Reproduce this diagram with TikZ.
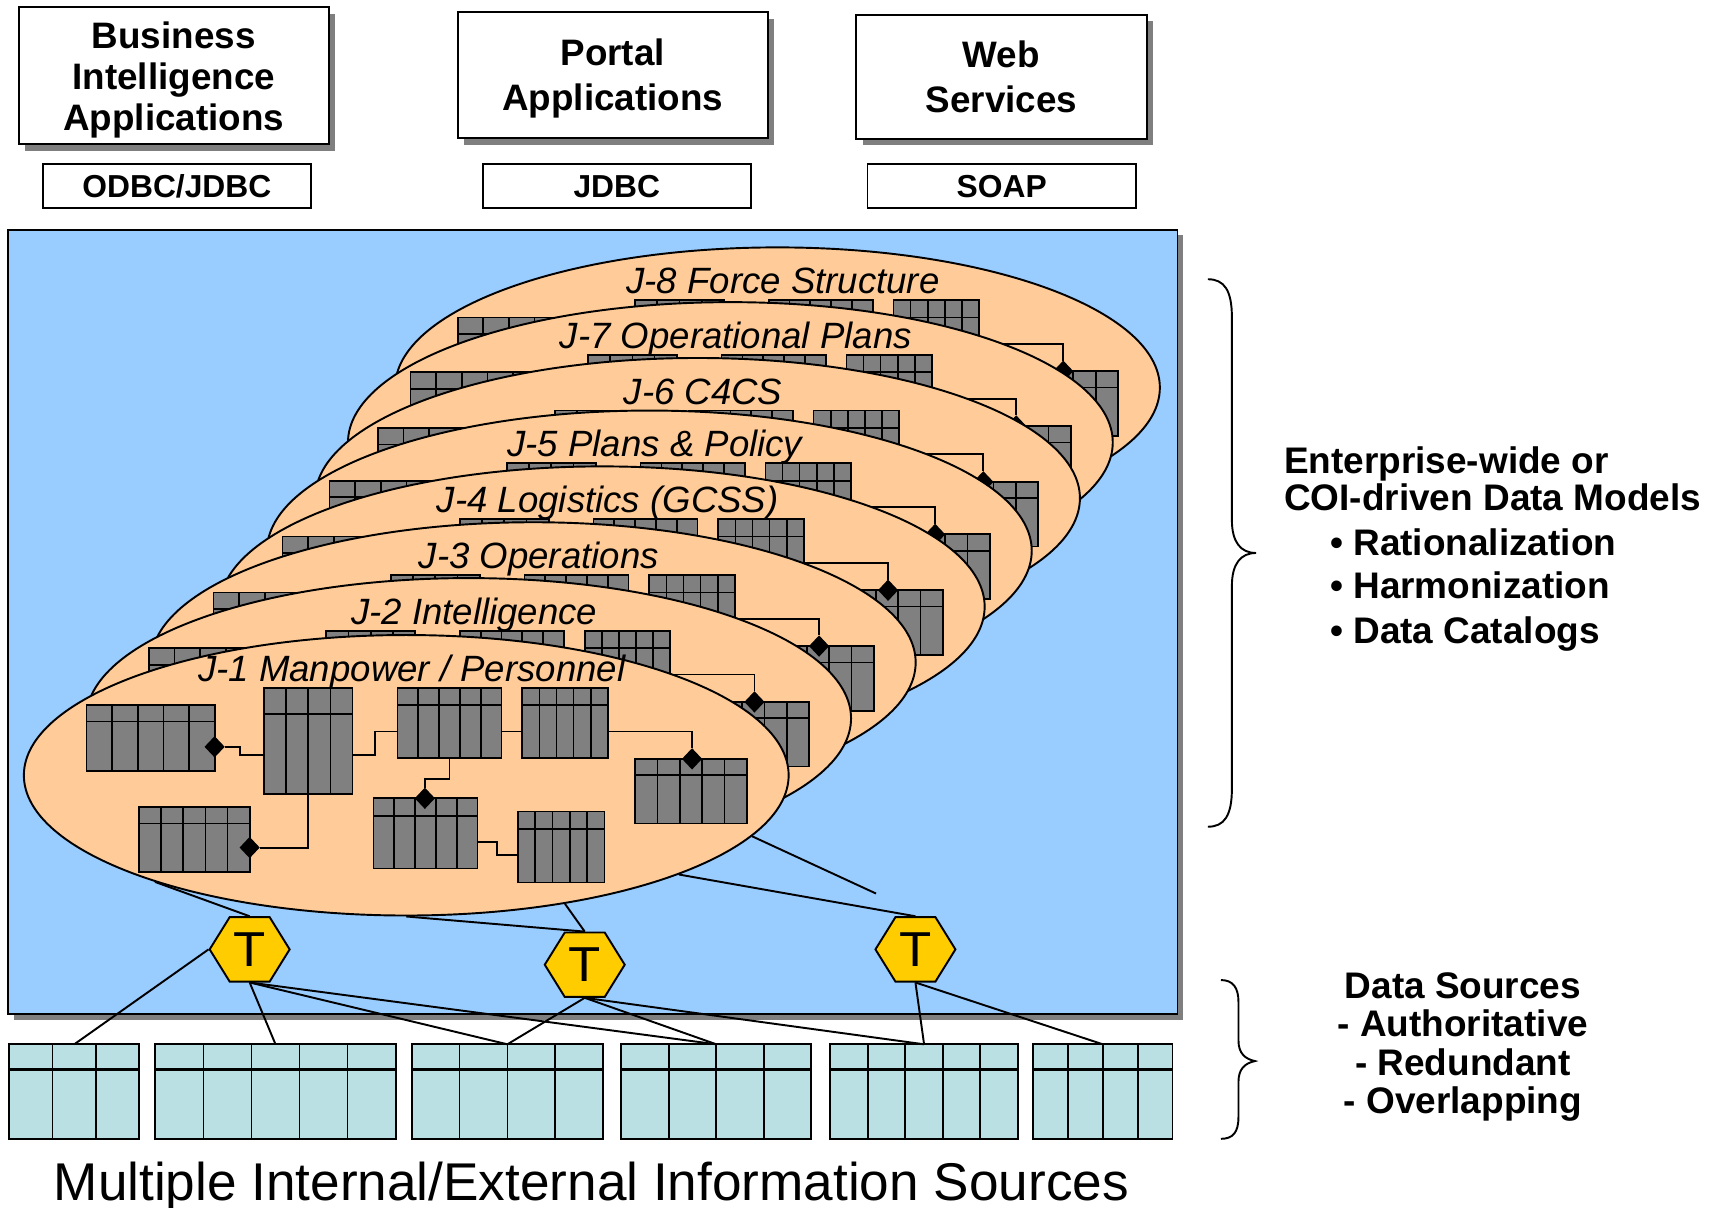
\documentclass[tikz,border=0pt]{standalone}
\usepackage{fontspec}
\setmainfont{Liberation Sans}
\usetikzlibrary{shapes.geometric,calc,shadows}

\definecolor{bluebg}{HTML}{99CCFF}
\definecolor{peach}{HTML}{FFCC99}
\definecolor{tablegray}{HTML}{808080}
\definecolor{hexgold}{HTML}{FFCC00}
\definecolor{srcfill}{HTML}{BBE0E3}
\definecolor{shadowgray}{HTML}{7F7F7F}

% A table drawn as a named node with column rules and a header rule.
% #1 style, #2 name, #3 centre, #4 width, #5 height, #6 columns,
% #7 header depth (px), #8 header rule width
\newcommand{\GridTable}[8]{%
  \node[#1, minimum width=#4, minimum height=#5] (#2) at (#3) {};
  \pgfmathtruncatemacro{\gtcm}{#6-1}%
  \foreach \k in {1,...,\gtcm}{%
    \draw[tabline] ($(#2.south west)!{\k/#6}!(#2.south east)$) -- ($(#2.north west)!{\k/#6}!(#2.north east)$);
  }%
  \draw[tabline, line width=#8] ($(#2.north west)+(0,#7)$) -- ($(#2.north east)+(0,#7)$);
}

% One directorate data model: ellipse, eight tables, keyed relations, title.
% #1 name prefix, #2 centre, #3 title
\newcommand{\DrawModel}[3]{%
  \begin{scope}[shift={(#2)}]
    \node[modelellipse] (#1ell) at (0,0) {};
    \GridTable{graytab}{#1ta}{-233.5,-34}{1.17cm}{0.60cm}{5}{15}{0.45pt}
    \GridTable{graytab}{#1tb}{-89.5,-31.5}{0.81cm}{0.97cm}{4}{24}{0.45pt}
    \GridTable{graytab}{#1tc}{39.5,-48}{0.95cm}{0.64cm}{5}{16}{0.45pt}
    \GridTable{graytab}{#1td}{145,-48}{0.78cm}{0.64cm}{5}{16}{0.45pt}
    \GridTable{graytab}{#1te}{260,14.5}{1.02cm}{0.59cm}{5}{15}{0.45pt}
    \GridTable{graytab}{#1tf}{-193.5,58.5}{1.01cm}{0.59cm}{5}{15}{0.45pt}
    \GridTable{graytab}{#1tg}{17.5,53}{0.95cm}{0.64cm}{5}{16}{0.45pt}
    \GridTable{graytab}{#1th}{141.5,65.5}{0.79cm}{0.65cm}{5}{16}{0.45pt}
    \node[keydiamond] (#1da) at (-175,-26) {};
    \node[keydiamond] (#1df) at (-143,66) {};
    \node[keydiamond] (#1de) at (261,-15) {};
    \node[keydiamond] (#1dg) at (17,21) {};
    \draw[link] (#1da.east) -- ++(14,0) |- ($(#1tb.west)+(0,13)$);
    \draw[link] (#1tb.south) |- (#1df.east);
    \draw[link] ($(#1tb.east)+(0,13)$) -- ++(20.5,0) |- ($(#1tc.west)+(0,8)$);
    \draw[link] ($(#1tc.east)+(0,8)$) -- ($(#1td.west)+(0,8)$);
    \draw[link] ($(#1td.east)+(0,8)$) -| (#1de.north);
    \draw[link] (#1tc.south) -- ++(0,19) -| (#1dg.north);
    \draw[link] ($(#1tg.east)+(0,8)$) -- ++(18,0) |- ($(#1th.west)+(0,7.5)$);
    \node[modeltitle] (#1ttl) at (5,-86) {#3};
  \end{scope}
}

\tikzset{
  link/.style={draw=black, line width=0.5pt},
  tabline/.style={draw=black, line width=0.45pt},
  graytab/.style={draw=black, fill=tablegray, inner sep=0, outer sep=0, line width=0.45pt},
  srctab/.style={draw=black, fill=srcfill, inner sep=0, outer sep=0, line width=0.5pt},
  keydiamond/.style={diamond, draw=black, fill=black, inner sep=0, minimum width=0.17cm, minimum height=0.18cm},
  modelellipse/.style={ellipse, draw=black, fill=peach, line width=0.5pt, inner sep=0, minimum width=6.98cm, minimum height=2.56cm},
  modeltitle/.style={anchor=base, inner sep=0, font=\fontsize{9.5}{11}\selectfont\itshape},
  appbox/.style={draw=black, fill=white, line width=0.5pt, align=center, inner sep=0,
    font=\fontsize{9.56}{11.7}\selectfont\bfseries,
    general shadow={fill=shadowgray, shadow xshift=0.06cm, shadow yshift=-0.06cm}},
  protobox/.style={draw=black, fill=white, line width=0.5pt, inner sep=0, minimum width=2.45cm, minimum height=0.405cm,
    font=\fontsize{8.25}{9}\selectfont\bfseries},
  bgpanel/.style={draw=black, fill=bluebg, line width=0.5pt, inner sep=0, minimum width=10.67cm, minimum height=7.16cm,
    general shadow={fill=shadowgray, shadow xshift=0.05cm, shadow yshift=-0.05cm}},
  tnode/.style={regular polygon, regular polygon sides=6, minimum size=0.73cm, inner sep=0, draw=black, fill=hexgold,
    line width=0.5pt, font=\fontsize{13.7}{14}\selectfont, transform shape, yscale=0.93},
  bracepath/.style={draw=black, line width=0.5pt},
  sidetext/.style={inner sep=0, font=\fontsize{9.6}{11}\selectfont\bfseries},
}

\begin{document}
\begin{tikzpicture}[x=0.01cm, y=-0.01cm]
\useasboundingbox (0,0) rectangle (1568,1103);

% consuming applications and their access protocols
\node[appbox, minimum width=2.83cm, minimum height=1.25cm, font=\fontsize{9.56}{10.6}\selectfont\bfseries] (bi) at (158.6,69) {\rule{0pt}{0.33cm}Business\\Intelligence\\Applications};
\node[appbox, minimum width=2.83cm, minimum height=1.15cm] (portal) at (559.5,68.8) {\rule{0pt}{0.30cm}Portal\\Applications};
\node[appbox, minimum width=2.65cm, minimum height=1.13cm] (web) at (914.5,70) {Web\\Services};
\node[protobox] (odbc) at (161.5,170) {ODBC/JDBC};
\node[protobox] (jdbc) at (563.3,170) {JDBC};
\node[protobox] (soap) at (914.8,170) {SOAP};

% integration layer
\node[bgpanel] (panel) at (541.5,568) {};

% stacked directorate models, back to front
\DrawModel{jh}{710,354}{J-8 Force Structure}
\DrawModel{jg}{667,404}{J-7 Operational Plans}
\DrawModel{jf}{637,455}{J-6 C4CS}
\DrawModel{je}{593,503}{J-5 Plans \& Policy}
\DrawModel{jd}{550,554}{J-4 Logistics (GCSS)}
\DrawModel{jc}{487,605}{J-3 Operations}
\DrawModel{jb}{428,656}{J-2 Intelligence}
\DrawModel{ja}{371,708}{J-1 Manpower / Personnel}

% transformation nodes
\node[tnode] (t1) at (228,867) {T};
\node[tnode] (t2) at (534,881) {T};
\node[tnode] (t3) at (836,867) {T};

\coordinate (loose) at (800,816);
\draw[link] (jaell.-157) -- (t1.north);
\draw[link] (jaell.south) -- (t2.north);
\draw[link] (jaell.-39) -- (t2.north);
\draw[link] (jaell.-20) -- (t3.north);
\draw[link] (jaell.-10) -- (loose);

% source databases
\GridTable{srctab}{s1}{67.8,997.1}{1.188cm}{0.868cm}{3}{22.6}{0.8pt}
\GridTable{srctab}{s2}{251.6,997.1}{2.194cm}{0.868cm}{5}{22.6}{0.8pt}
\GridTable{srctab}{s3}{463.35,997.1}{1.747cm}{0.868cm}{4}{22.6}{0.8pt}
\GridTable{srctab}{s4}{654.15,997.1}{1.733cm}{0.868cm}{4}{22.6}{0.8pt}
\GridTable{srctab}{s5}{843.9,997.1}{1.712cm}{0.868cm}{5}{22.6}{0.8pt}
\GridTable{srctab}{s6}{1007.1,997.1}{1.272cm}{0.868cm}{4}{22.6}{0.8pt}

\draw[link] (t1.west) -- (s1.north);
\foreach \s in {s2,s3,s4} \draw[link] (t1.south) -- (\s.north);
\foreach \s in {s3,s4,s5} \draw[link] (t2.south) -- (\s.north);
\foreach \s in {s5,s6} \draw[link] (t3.south) -- (\s.north);

% braces and annotations
\draw[bracepath] (1103,255) .. controls (1118,255) and (1125,265) .. (1125,290) -- (1125,475)
  .. controls (1125,495) and (1133,505) .. (1147,505)
  .. controls (1133,505) and (1125,515) .. (1125,535) -- (1125,720)
  .. controls (1125,745) and (1118,755) .. (1103,755);
\draw[bracepath] (1115,895) .. controls (1126,895) and (1131,902) .. (1131,915) -- (1131,950)
  .. controls (1131,962) and (1137,967) .. (1146,969)
  .. controls (1137,971) and (1131,976) .. (1131,988) -- (1131,1020)
  .. controls (1131,1034) and (1126,1040) .. (1115,1040);

\node[sidetext, anchor=base west] (ent1) at (1172,432) {Enterprise-wide or};
\node[sidetext, anchor=base west] (ent2) at (1172,466) {COI-driven Data Models};
\node[sidetext, anchor=base west] (ent3) at (1214,507) {• Rationalization};
\node[sidetext, anchor=base west] (ent4) at (1214,547) {• Harmonization};
\node[sidetext, anchor=base west] (ent5) at (1214,588) {• Data Catalogs};

\node[sidetext, anchor=base] (ds1) at (1336,912) {Data Sources};
\node[sidetext, anchor=base] (ds2) at (1336,947) {- Authoritative};
\node[sidetext, anchor=base] (ds3) at (1336,982) {- Redundant};
\node[sidetext, anchor=base] (ds4) at (1336,1017) {- Overlapping};

\node[anchor=base, inner sep=0, font=\fontsize{13.8}{15}\selectfont] (caption) at (540,1096) {Multiple Internal/External Information Sources};
\end{tikzpicture}
\end{document}
